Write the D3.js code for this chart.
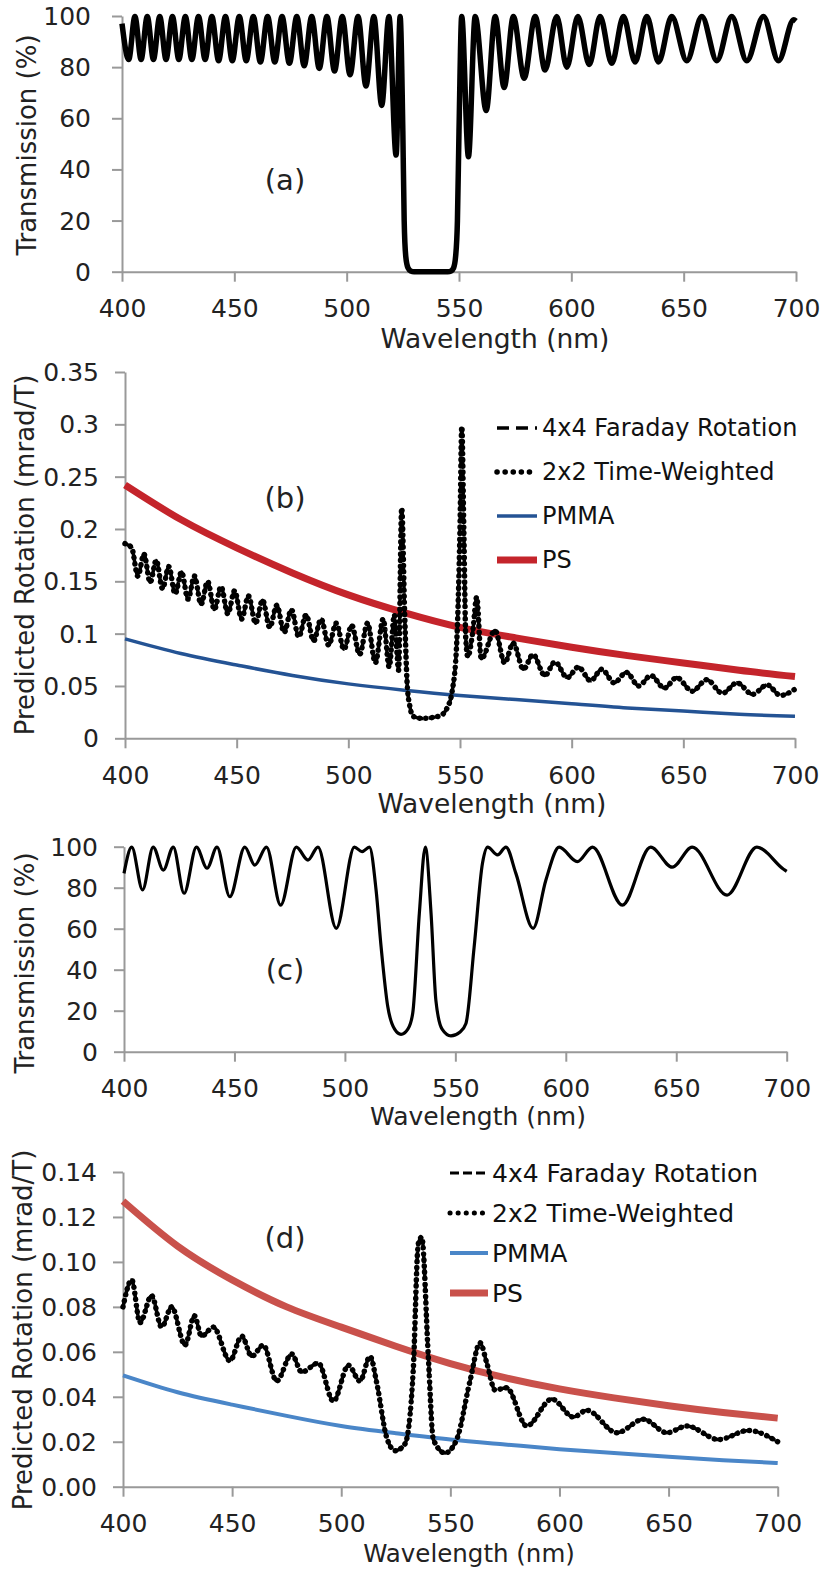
<!DOCTYPE html>
<html>
<head>
<meta charset="utf-8">
<script src="https://cdn.jsdelivr.net/npm/d3@7"></script>
<style>
  body { margin: 0; background: #fff; }
</style>
</head>
<body>
<script>
// ---- data: [wavelength nm, value] ----
var wlTicks = [400, 450, 500, 550, 600, 650, 700];
var transTicks = [0, 20, 40, 60, 80, 100];
var rotTicksB = [0, 0.05, 0.1, 0.15, 0.2, 0.25, 0.3, 0.35];
var rotTicksD = [0, 0.02, 0.04, 0.06, 0.08, 0.10, 0.12, 0.14];
var legendNames = ["4x4 Faraday Rotation", "2x2 Time-Weighted", "PMMA", "PS"];

// (a) transmission, %
var transA = [[400,97],[403,83],[405.75,99.8],[408.5,83],[411.25,99.8],[414,83],[416.8,99.8],[419.6,83],
  [422.45,99.8],[425.3,83],[428.2,99.8],[431.1,83],[434.05,99.8],[437,83],[440,99.8],[443,82.5],
  [446.05,99.8],[449.1,82.5],[452.2,99.8],[455.3,82.5],[458.45,99.8],[461.6,82],[464.8,99.8],[468,82],
  [471.25,99.8],[474.5,81.5],[477.8,99.8],[481.1,80.5],[484.45,99.8],[487.8,79.5],[491.2,99.8],[494.6,78.5],
  [498.05,99.8],[501.5,77],[505.05,99.8],[508.6,72.6],[512.1,99.8],[515.6,65],[518.8,99.8],[522,45.6],
  [523.8,99.8],[525,55],[525.6,20],[526.3,6],[527.3,1.5],[528.5,0.3],[530,0],[545,0],[546.5,0.3],
  [547.6,1.5],[548.5,6],[549.3,20],[550,55],[551.2,99.8],[554.2,45],[557.2,99.8],[562.1,63],[566.1,99.8],
  [570.1,72],[574.2,99.8],[579,75.7],[583.9,99.8],[588.3,78.9],[593.5,99.8],[598,80],[602.9,99.8],
  [608,81],[612.8,99.8],[618,81.5],[623.2,99.8],[628.4,82],[633.6,99.8],[638.8,82],[644.7,99.8],
  [651.4,82.5],[658.1,99.8],[664.8,82.5],[671.4,99.8],[678.1,82.5],[685.5,99.8],[692.2,82.5],[699,98.5],[700,98]];

// (b) predicted rotation, mrad/T (4x4 and 2x2 overlap within line width)
var rot4x4B = [[400,0.186],[403,0.182],[405.75,0.155],[408.5,0.176],[411.25,0.149],[414,0.170],
  [416.8,0.143],[419.6,0.164],[422.45,0.138],[425.3,0.159],[428.2,0.133],[431.1,0.155],[434.05,0.128],
  [437,0.150],[440,0.123],[443,0.145],[446.05,0.119],[449.1,0.141],[452.2,0.114],[455.3,0.136],
  [458.45,0.110],[461.6,0.132],[464.8,0.106],[468,0.127],[471.25,0.101],[474.5,0.123],[477.8,0.097],
  [481.1,0.118],[484.45,0.093],[487.8,0.114],[491.2,0.089],[494.6,0.110],[498.05,0.085],[501.5,0.108],
  [505.05,0.080],[508.6,0.110],[512.1,0.072],[515.6,0.114],[518.3,0.068],[520.6,0.118],[522.5,0.065],
  [523.9,0.220],[525.2,0.120],[526.4,0.050],[527.6,0.030],[529,0.021],[533,0.019],[538,0.020],
  [541.5,0.022],[544,0.028],[546.5,0.045],[548.5,0.090],[550,0.200],[550.8,0.298],[551.7,0.200],
  [552.6,0.095],[553.5,0.078],[555.6,0.100],[557.5,0.135],[559.5,0.076],[565.7,0.103],[570,0.072],
  [573.8,0.091],[578.4,0.066],[582.7,0.080],[588,0.060],[592.5,0.073],[598,0.058],[603,0.068],
  [608.5,0.055],[613.5,0.066],[619,0.053],[624.5,0.063],[630,0.050],[635.5,0.060],[641.5,0.048],
  [647,0.058],[654,0.045],[660.5,0.056],[667.5,0.043],[674,0.053],[681,0.042],[687.5,0.051],
  [693.5,0.041],[700,0.047]];
var rot2x2B = rot4x4B;
var pmmaB = [[400,0.095],[425,0.081],[450,0.070],[475,0.060],[500,0.052],[525,0.046],[550,0.041],
  [575,0.037],[600,0.033],[625,0.029],[650,0.026],[675,0.023],[700,0.021]];
var psB = [[400,0.242],[425,0.209],[450,0.182],[475,0.158],[500,0.137],[525,0.120],[550,0.106],
  [575,0.096],[600,0.087],[625,0.079],[650,0.072],[675,0.065],[700,0.059]];

// (c) transmission, %
var transC = [[400,87],[403.5,99.8],[408.4,78.9],[413.2,99.8],[417.8,88.6],[422.3,99.8],[427.2,77.3],
  [432.8,99.8],[437.6,89.5],[442.1,99.8],[447.9,75.6],[454.7,99.8],[459.2,91],[464.5,99.8],[470.9,71.5],
  [478,99.8],[483.3,93.5],[487.8,99.8],[496.1,60.2],[504.3,99.8],[507.8,97.6],[511.1,99.8],[514.1,79],
  [516.4,51],[519.4,22],[522.5,11],[525.4,8.5],[528.5,11],[530.7,18.7],[533.7,67.5],[536.4,99.8],
  [539,67.5],[541.2,24.9],[544,11],[548,7.7],[552,9.5],[554.8,13.8],[558.5,51],[562.3,92],[564.6,99.8],
  [569.1,96],[572.9,99.8],[577.4,87],[585.2,60.2],[591,83.8],[597,99.8],[605.2,92.7],[612.1,99.8],
  [625.6,71.5],[638.4,99.8],[648.2,90],[657.2,99.8],[673,76.4],[686.5,99.8],[698.6,89],[700,88]];

// (d) predicted rotation, mrad/T
var rot4x4D = [[400,0.080],[404,0.092],[407.8,0.073],[413.1,0.085],[417.7,0.071],[422.3,0.080],
  [428.4,0.063],[432.7,0.076],[436,0.067],[441.4,0.071],[449,0.056],[454.4,0.067],[459,0.058],
  [464.3,0.063],[470.4,0.047],[477.3,0.059],[481.9,0.051],[489.5,0.055],[496.4,0.038],[503.3,0.054],
  [508.6,0.047],[513.2,0.058],[516.3,0.046],[520.8,0.022],[524.7,0.016],[529.2,0.019],[533,0.052],
  [535.3,0.108],[536.9,0.111],[539.9,0.058],[542.2,0.021],[547.6,0.015],[552.9,0.021],[559,0.047],
  [563.6,0.064],[566.7,0.055],[570.5,0.043],[575.8,0.044],[585,0.027],[596.5,0.039],[606.4,0.031],
  [612.5,0.034],[626.3,0.024],[638.5,0.030],[649.2,0.024],[658.4,0.027],[672.9,0.021],[686.6,0.025],[700,0.020]];
var rot2x2D = rot4x4D;
var pmmaD = [[400,0.0495],[425,0.042],[450,0.0365],[475,0.0315],[500,0.027],[525,0.0238],[550,0.021],
  [575,0.0188],[600,0.0167],[625,0.015],[650,0.0133],[675,0.0118],[700,0.0105]];
var psD = [[400,0.127],[425,0.107],[450,0.092],[475,0.080],[500,0.071],[525,0.0625],[550,0.0548],
  [575,0.0485],[600,0.0435],[625,0.0395],[650,0.036],[675,0.033],[700,0.0305]];

// ---- drawing ----
var W = 825, H = 1576;
var FONT = "DejaVu Sans";

var svg = d3.select("body").append("svg")
  .attr("width", W)
  .attr("height", H)
  .style("background", "#fff");

// line styles
var styles = {
  trans:  { stroke: "#000", width: 5.5 },
  transThin: { stroke: "#000", width: 3.2 },
  dash:   { stroke: "#000", width: 3.5, dash: "9,5" },
  dot:    { stroke: "#000", width: 5.5, dash: "0.1,6", cap: "round" },
  pmmaB:  { stroke: "#245394", width: 3.5, smooth: true },
  psB:    { stroke: "#c4242b", width: 7, smooth: true },
  pmmaD:  { stroke: "#4a86c8", width: 4, smooth: true },
  psD:    { stroke: "#c9514b", width: 7, smooth: true }
};

function applyStyle(sel, st) {
  sel.attr("fill", "none")
    .attr("stroke", st.stroke)
    .attr("stroke-width", st.width)
    .attr("stroke-linecap", st.cap || "butt")
    .attr("stroke-linejoin", "round");
  if (st.dash) sel.attr("stroke-dasharray", st.dash);
}

function panel(p) {
  var x = d3.scaleLinear().domain([400, 700]).range([p.left, p.right]);
  var y = d3.scaleLinear().domain([0, p.yMax]).range([p.bottom, p.top]);
  var g = svg.append("g");

  var gx = g.append("g")
    .attr("transform", "translate(0," + p.bottom + ")")
    .call(d3.axisBottom(x).tickValues(wlTicks).tickSize(10).tickSizeOuter(0).tickFormat(d3.format("d")));
  var gy = g.append("g")
    .attr("transform", "translate(" + p.left + ",0)")
    .call(d3.axisLeft(y).tickValues(p.yTicks).tickSize(10).tickSizeOuter(0).tickFormat(p.yFmt));

  [gx, gy].forEach(function(a) {
    a.select(".domain").attr("stroke", "#999").attr("stroke-width", 2);
    a.selectAll(".tick line").attr("stroke", "#999").attr("stroke-width", 2);
    a.selectAll(".tick text")
      .attr("fill", "#222")
      .style("font-family", FONT)
      .style("font-size", "25px");
  });
  gx.selectAll(".tick text").attr("y", 37).attr("dy", null).attr("dominant-baseline", "central");
  gy.selectAll(".tick text").attr("x", -p.yGap).attr("dy", null).attr("dominant-baseline", "central");

  // axis titles
  g.append("text")
    .attr("x", p.xTitle[0]).attr("y", p.xTitle[1])
    .attr("text-anchor", "middle").attr("dominant-baseline", "central")
    .style("font-family", FONT).style("font-size", p.xTitleSize + "px")
    .attr("fill", "#222")
    .text("Wavelength (nm)");
  g.append("text")
    .attr("transform", "translate(" + p.yTitle[0] + "," + p.yTitle[1] + ") rotate(-90)")
    .attr("text-anchor", "middle").attr("dominant-baseline", "central")
    .style("font-family", FONT).style("font-size", "26px")
    .attr("fill", "#222")
    .text(p.yLabel);

  // panel tag
  g.append("text")
    .attr("x", 285).attr("y", p.tagY)
    .attr("text-anchor", "middle").attr("dominant-baseline", "central")
    .style("font-family", FONT).style("font-size", "29px")
    .attr("fill", "#222")
    .text(p.tag);

  var line = d3.line()
    .x(function(d) { return x(d[0]); })
    .y(function(d) { return y(d[1]); });

  p.series.forEach(function(s) {
    line.curve(s.style.smooth ? d3.curveNatural : d3.curveMonotoneX);
    var path = g.append("path").datum(s.data).attr("d", line);
    applyStyle(path, s.style);
  });

  if (p.legend) {
    var L = p.legend;
    L.styles.forEach(function(st, i) {
      var ry = L.y0 + i * L.dy;
      var ln = g.append("line")
        .attr("x1", L.x0).attr("x2", L.x1)
        .attr("y1", ry).attr("y2", ry);
      applyStyle(ln, st);
      g.append("text")
        .attr("x", L.tx).attr("y", ry)
        .attr("dominant-baseline", "central")
        .style("font-family", FONT).style("font-size", L.size + "px")
        .attr("fill", "#111")
        .text(legendNames[i]);
    });
  }
}

var fmtB = function(d) { return String(+d.toFixed(2)); };

panel({
  left: 122, right: 796, top: 16, bottom: 271.7, yMax: 100,
  yTicks: transTicks, yFmt: d3.format("d"), yGap: 31,
  xTitle: [495, 338], xTitleSize: 26.5, yTitle: [27, 145], yLabel: "Transmission (%)",
  tag: "(a)", tagY: 180,
  series: [{ data: transA, style: styles.trans }]
});

panel({
  left: 125, right: 795, top: 372, bottom: 738.3, yMax: 0.35,
  yTicks: rotTicksB, yFmt: fmtB, yGap: 26,
  xTitle: [492, 803], xTitleSize: 26.5, yTitle: [25, 555], yLabel: "Predicted Rotation (mrad/T)",
  tag: "(b)", tagY: 498,
  series: [
    { data: pmmaB, style: styles.pmmaB },
    { data: psB, style: styles.psB },
    { data: rot4x4B, style: styles.dash },
    { data: rot2x2B, style: styles.dot }
  ],
  legend: { x0: 497, x1: 537, tx: 542, y0: 428, dy: 44, size: 24,
    styles: [{ stroke: "#000", width: 3.5, dash: "12,7" }, { stroke: "#000", width: 5.5, dash: "0.1,8", cap: "round" },
             styles.pmmaB, styles.psB] }
});

panel({
  left: 124, right: 786.7, top: 846.7, bottom: 1051.7, yMax: 100,
  yTicks: transTicks, yFmt: d3.format("d"), yGap: 26,
  xTitle: [478, 1116], xTitleSize: 25, yTitle: [25, 963], yLabel: "Transmission (%)",
  tag: "(c)", tagY: 970,
  series: [{ data: transC, style: styles.transThin }]
});

panel({
  left: 123, right: 777.7, top: 1172, bottom: 1486.7, yMax: 0.14,
  yTicks: rotTicksD, yFmt: d3.format(".2f"), yGap: 26,
  xTitle: [469, 1553], xTitleSize: 24.5, yTitle: [23, 1330], yLabel: "Predicted Rotation (mrad/T)",
  tag: "(d)", tagY: 1238,
  series: [
    { data: pmmaD, style: styles.pmmaD },
    { data: psD, style: styles.psD },
    { data: rot4x4D, style: styles.dash },
    { data: rot2x2D, style: styles.dot }
  ],
  legend: { x0: 450, x1: 488, tx: 492, y0: 1173, dy: 40, size: 25,
    styles: [{ stroke: "#000", width: 3, dash: "9,4" }, { stroke: "#000", width: 5, dash: "0.1,8", cap: "round" },
             styles.pmmaD, styles.psD] }
});
</script>
</body>
</html>
